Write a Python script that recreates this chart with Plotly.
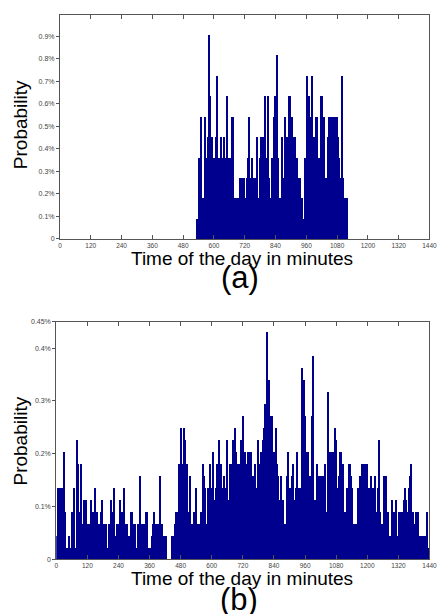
import numpy as np
import plotly.graph_objects as go

# ---------------- data ----------------
BIN = 4  # minutes per bar
x_ticks = [0, 120, 240, 360, 480, 600, 720, 840, 960, 1080, 1200, 1320, 1440]

# (a) counts per 4-minute bin, starting at minute 532 (zero elsewhere)
start_a = 532
total_a = 1100
counts_a = [
    1, 1, 4, 4, 6, 2, 2, 2, 6, 3,
    4, 5, 10, 7, 5, 5, 4, 4, 5, 8,
    4, 0, 4, 5, 4, 4, 5, 4, 4, 7,
    4, 1, 4, 4, 6, 6, 2, 1, 2, 0,
    2, 1, 3, 3, 0, 3, 3, 0, 2, 3,
    4, 6, 3, 3, 4, 3, 3, 3, 5, 2,
    2, 4, 5, 4, 5, 4, 7, 3, 4, 7,
    3, 2, 2, 4, 4, 6, 7, 5, 9, 4,
    2, 0, 2, 5, 2, 3, 6, 4, 5, 5,
    7, 7, 4, 6, 5, 5, 3, 4, 3, 2,
    3, 2, 2, 1, 0, 4, 4, 8, 4, 7,
    4, 6, 8, 4, 5, 3, 6, 6, 4, 3,
    4, 7, 7, 4, 6, 3, 1, 3, 5, 6,
    5, 6, 6, 6, 6, 6, 6, 5, 4, 3,
    3, 8, 3, 2, 2, 2, 2,
]

# (b) counts per 4-minute bin over the whole day
total_b = 4413
counts_b = [
    2, 6, 6, 6, 5, 6, 4, 9, 4, 1,
    1, 1, 2, 1, 1, 4, 3, 6, 1, 1,
    10, 8, 4, 4, 8, 3, 2, 5, 5, 1,
    3, 3, 3, 5, 3, 4, 4, 6, 4, 4,
    3, 3, 3, 4, 5, 3, 0, 3, 3, 1,
    1, 3, 3, 5, 4, 6, 2, 1, 3, 3,
    3, 5, 1, 4, 4, 6, 3, 3, 3, 1,
    2, 1, 4, 4, 3, 3, 3, 1, 1, 3,
    1, 7, 3, 3, 3, 3, 4, 4, 1, 1,
    1, 1, 2, 3, 4, 3, 3, 3, 3, 3,
    7, 3, 3, 2, 2, 2, 2, 0, 0, 0,
    0, 2, 2, 1, 3, 4, 3, 4, 8, 5,
    11, 8, 8, 11, 10, 8, 8, 4, 4, 7,
    3, 3, 0, 4, 4, 6, 3, 3, 3, 4,
    4, 8, 7, 6, 3, 3, 6, 6, 8, 6,
    6, 9, 5, 5, 6, 8, 8, 10, 8, 8,
    5, 6, 7, 6, 10, 5, 5, 8, 8, 7,
    10, 10, 11, 9, 8, 8, 8, 6, 10, 9,
    12, 9, 9, 8, 2, 9, 9, 9, 9, 2,
    7, 8, 6, 6, 10, 8, 8, 9, 9, 10,
    11, 13, 11, 19, 11, 15, 12, 12, 12, 8,
    9, 8, 11, 8, 7, 5, 1, 7, 5, 3,
    3, 3, 7, 9, 6, 6, 3, 7, 8, 5,
    5, 6, 9, 6, 6, 3, 6, 16, 13, 15,
    12, 7, 9, 9, 7, 7, 12, 17, 5, 1,
    5, 8, 1, 7, 2, 7, 7, 7, 5, 8,
    1, 4, 14, 9, 9, 9, 9, 6, 9, 11,
    10, 6, 7, 9, 9, 8, 8, 4, 4, 4,
    6, 6, 8, 8, 7, 6, 1, 3, 3, 3,
    3, 6, 6, 7, 6, 8, 8, 8, 8, 8,
    6, 6, 2, 7, 6, 6, 4, 7, 4, 4,
    6, 10, 4, 1, 3, 3, 7, 6, 7, 4,
    4, 1, 2, 2, 5, 3, 4, 5, 2, 2,
    4, 4, 4, 4, 4, 5, 6, 5, 2, 4,
    6, 7, 8, 4, 4, 3, 2, 4, 3, 4,
    2, 2, 2, 2, 2, 2, 0, 4, 0, 1,
]

y_ticks_a = [0, 0.001, 0.002, 0.003, 0.004, 0.005, 0.006, 0.007, 0.008, 0.009]
y_text_a = ["0", "0.1%", "0.2%", "0.3%", "0.4%", "0.5%", "0.6%", "0.7%", "0.8%", "0.9%"]
y_ticks_b = [0, 0.001, 0.002, 0.003, 0.004, 0.0045]
y_text_b = ["0", "0.1%", "0.2%", "0.3%", "0.4%", "0.45%"]

x_a = start_a + BIN * np.arange(len(counts_a)) + BIN / 2
y_a = np.array(counts_a) / total_a
x_b = BIN * np.arange(len(counts_b)) + BIN / 2
y_b = np.array(counts_b) / total_b

# ---------------- figure ----------------
W, H = 446, 614
BAR = "#00008f"
AX = "#555555"
FONT = "Liberation Sans, Arial, sans-serif"


def px(v):
    return v / W


def py(v):
    return 1 - v / H


fig = go.Figure()
fig.add_trace(go.Bar(x=x_a, y=y_a, width=BIN, marker=dict(color=BAR, line=dict(width=0)),
                     xaxis="x", yaxis="y", showlegend=False, hoverinfo="skip"))
fig.add_trace(go.Bar(x=x_b, y=y_b, width=BIN, marker=dict(color=BAR, line=dict(width=0)),
                     xaxis="x2", yaxis="y2", showlegend=False, hoverinfo="skip"))

xcommon = dict(range=[0, 1440], tickvals=x_ticks, ticktext=[str(t) for t in x_ticks],
               ticks="inside", ticklen=4, tickcolor=AX, showline=True, linecolor=AX,
               linewidth=1, mirror="ticks", showgrid=False, zeroline=False,
               tickfont=dict(size=6.5, color="#444", family=FONT))
ycommon = dict(ticks="outside", ticklen=3, tickcolor=AX, showline=True, linecolor=AX,
               linewidth=1, mirror=True, showgrid=False, zeroline=False,
               tickfont=dict(size=7, color="#444", family=FONT))

fig.update_layout(
    width=W, height=H,
    margin=dict(l=0, r=0, t=0, b=0),
    paper_bgcolor="white", plot_bgcolor="white",
    bargap=0,
    xaxis=dict(domain=[px(59.3), px(437.3)], anchor="y", **xcommon),
    yaxis=dict(domain=[py(237.7), py(10.7)], anchor="x", range=[0, 0.00997],
               tickvals=y_ticks_a, ticktext=y_text_a, **ycommon),
    xaxis2=dict(domain=[px(55.5), px(437.3)], anchor="y2", **xcommon),
    yaxis2=dict(domain=[py(561.7), py(321.5)], anchor="x2", range=[0, 0.0045],
                tickvals=y_ticks_b, ticktext=y_text_b, **ycommon),
)

ann = [
    ("Time of the day in minutes", 245, 257.5, 19, 0),
    ("(a)", 243, 277, 31, 0),
    ("Probability", 19, 122, 19, -90),
    ("Time of the day in minutes", 245, 581.5, 19, 0),
    ("(b)", 242, 602, 31, 0),
    ("Probability", 19, 442, 19, -90),
]
for text, x, y, size, ang in ann:
    fig.add_annotation(text=text, x=px(x), y=py(y), xref="paper", yref="paper",
                       xanchor="center", yanchor="middle", showarrow=False,
                       textangle=ang, font=dict(size=size, color="black", family=FONT))

fig.write_html("out.html", config={"displayModeBar": False},
               post_script="document.body.style.margin='0';document.body.style.overflow='hidden';")
